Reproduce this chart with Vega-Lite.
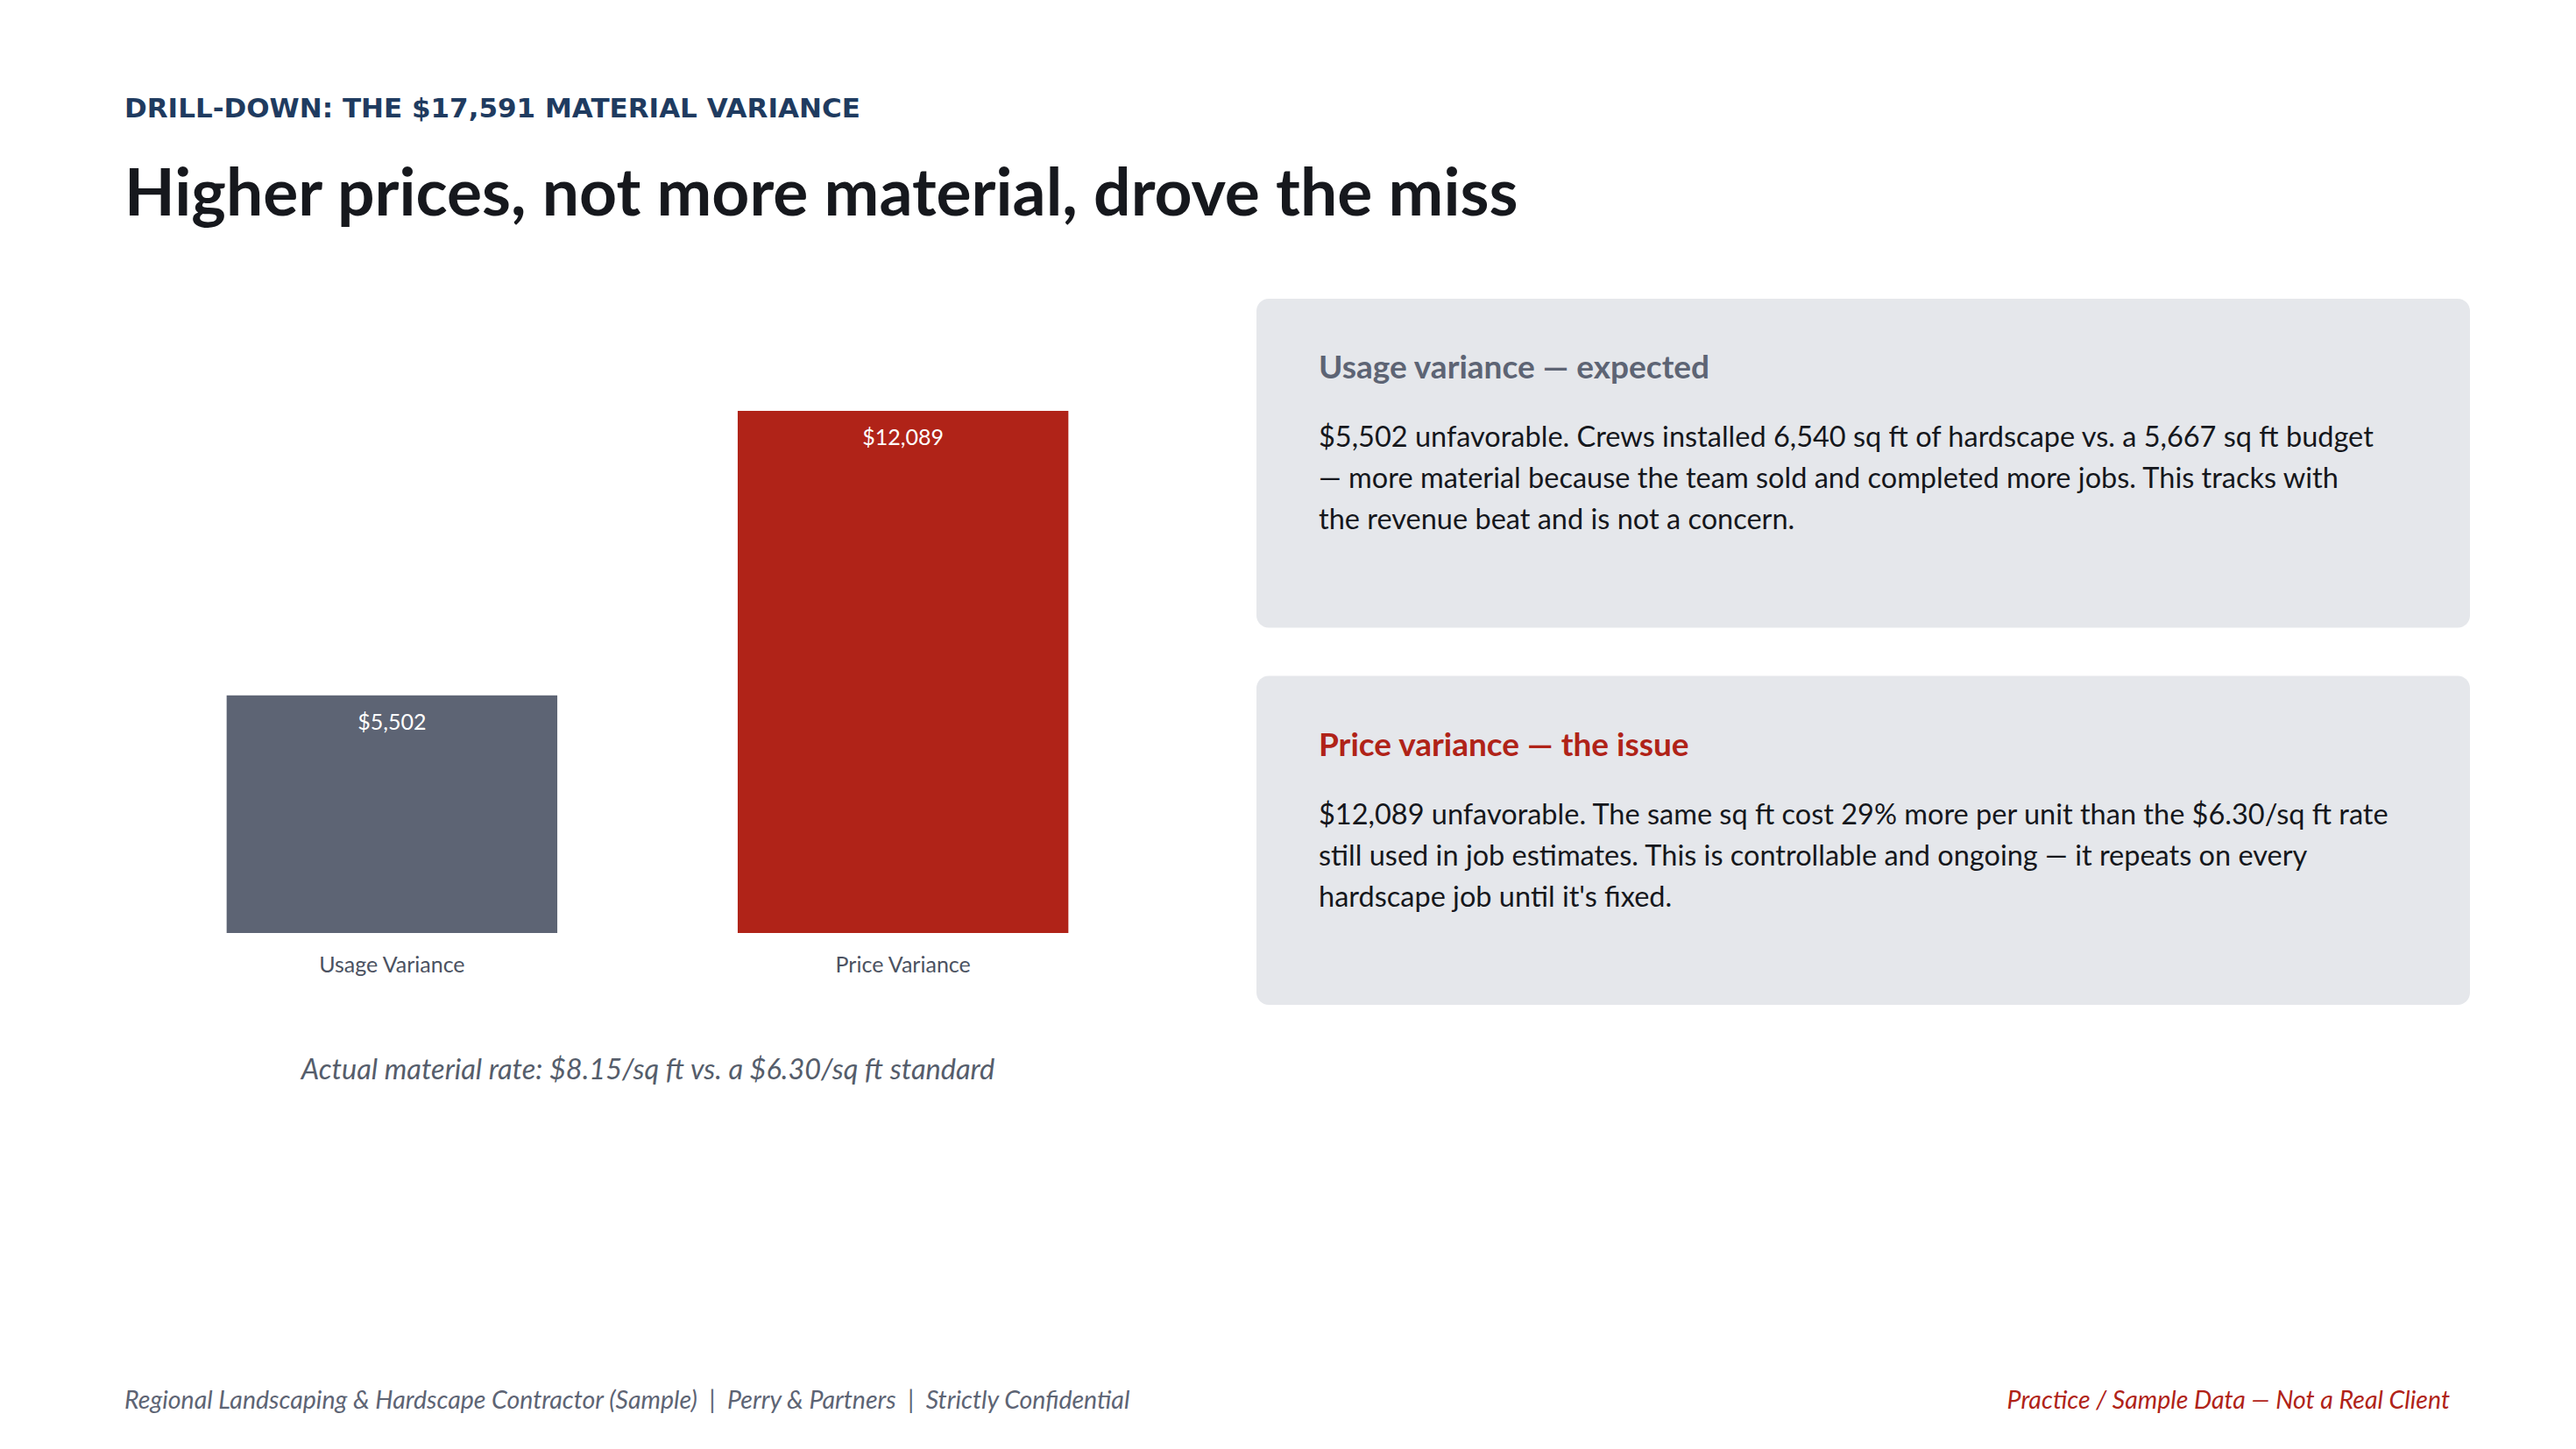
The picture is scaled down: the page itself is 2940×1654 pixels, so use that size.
{
  "$schema": "https://vega.github.io/schema/vega-lite/v6.json",
  "description": "Material variance drill-down: usage vs price variance",
  "background": "#ffffff",
  "padding": {"left": 142, "top": 109, "right": 0, "bottom": 0},
  "title": {
    "text": "DRILL-DOWN: THE $17,591 MATERIAL VARIANCE",
    "subtitle": "Higher prices, not more material, drove the miss",
    "anchor": "start",
    "frame": "group",
    "font": "DejaVu Sans",
    "fontSize": 31,
    "fontWeight": "bold",
    "color": "#1f3b60",
    "subtitleFont": "Lato",
    "subtitleFontSize": 75,
    "subtitleFontWeight": "bold",
    "subtitleColor": "#16181d",
    "subtitlePadding": 46,
    "offset": 79
  },
  "config": {
    "font": "Lato",
    "view": {"stroke": null}
  },
  "datasets": {
    "variance": [
      {"component": "Usage Variance", "amount": 5502},
      {"component": "Price Variance", "amount": 12089}
    ],
    "cards": [
      {
        "card": "Usage",
        "tone": "expected",
        "heading": "Usage variance — expected",
        "body": "$5,502 unfavorable. Crews installed 6,540 sq ft of hardscape vs. a 5,667 sq ft budget\n— more material because the team sold and completed more jobs. This tracks with\nthe revenue beat and is not a concern."
      },
      {
        "card": "Price",
        "tone": "issue",
        "heading": "Price variance — the issue",
        "body": "$12,089 unfavorable. The same sq ft cost 29% more per unit than the $6.30/sq ft rate\nstill used in job estimates. This is controllable and ongoing — it repeats on every\nhardscape job until it's fixed."
      }
    ],
    "footer": [
      {"side": "left", "note": "Regional Landscaping & Hardscape Contractor (Sample) \u00a0|\u00a0 Perry & Partners \u00a0|\u00a0 Strictly Confidential"},
      {"side": "right", "note": "Practice / Sample Data — Not a Real Client"}
    ]
  },
  "vconcat": [
    {
      "hconcat": [
        {
          "width": 1194,
          "height": 724,
          "data": {"name": "variance"},
          "encoding": {
            "x": {
              "field": "component",
              "type": "nominal",
              "sort": null,
              "scale": {"paddingInner": 0.353, "paddingOuter": 0.2},
              "axis": {
                "title": "Actual material rate: $8.15/sq ft vs. a $6.30/sq ft standard",
                "titleFont": "Lato",
                "titleFontSize": 32.5,
                "titleFontStyle": "italic",
                "titleFontWeight": "normal",
                "titleColor": "#555d6b",
                "titlePadding": 91,
                "labelAngle": 0,
                "labelFont": "Lato",
                "labelFontSize": 25,
                "labelColor": "#4b5261",
                "labelPadding": 24,
                "domain": false,
                "ticks": false,
                "tickSize": 0
              }
            },
            "y": {
              "field": "amount",
              "type": "quantitative",
              "scale": {"domain": [0, 14685]},
              "axis": null
            }
          },
          "layer": [
            {
              "mark": {"type": "bar"},
              "encoding": {
                "color": {
                  "field": "component",
                  "type": "nominal",
                  "scale": {"domain": ["Usage Variance", "Price Variance"], "range": ["#5d6474", "#b02318"]},
                  "legend": null
                }
              }
            },
            {
              "mark": {"type": "text", "baseline": "middle", "dy": 31, "fontSize": 25, "color": "#ffffff"},
              "encoding": {
                "text": {"field": "amount", "type": "quantitative", "format": "$,.0f"}
              }
            }
          ]
        },
        {
          "width": 1385,
          "height": 806,
          "data": {"name": "cards"},
          "encoding": {
            "y": {
              "field": "card",
              "type": "nominal",
              "sort": ["Usage", "Price"],
              "scale": {"paddingInner": 0.128, "paddingOuter": 0},
              "axis": null
            }
          },
          "layer": [
            {
              "mark": {"type": "rect", "color": "#e5e7eb", "cornerRadius": 14}
            },
            {
              "mark": {"type": "text", "align": "left", "baseline": "alphabetic", "dy": 91, "fontSize": 37, "fontWeight": "bold"},
              "encoding": {
                "x": {"value": 71},
                "y": {"field": "card", "type": "nominal", "bandPosition": 0},
                "text": {"field": "heading"},
                "color": {
                  "field": "tone",
                  "type": "nominal",
                  "scale": {"domain": ["expected", "issue"], "range": ["#5b6475", "#b02318"]},
                  "legend": null
                }
              }
            },
            {
              "mark": {"type": "text", "align": "left", "baseline": "alphabetic", "dy": 169, "fontSize": 32.5, "lineHeight": 47, "lineBreak": "\n", "color": "#15171c"},
              "encoding": {
                "x": {"value": 71},
                "y": {"field": "card", "type": "nominal", "bandPosition": 0},
                "text": {"field": "body"}
              }
            }
          ]
        }
      ],
      "spacing": 98
    },
    {
      "width": 2654,
      "height": 40,
      "data": {"name": "footer"},
      "encoding": {
        "x": {
          "field": "side",
          "type": "nominal",
          "scale": {"type": "point", "domain": ["left", "right"], "padding": 0},
          "axis": null
        },
        "text": {"field": "note"},
        "color": {
          "field": "side",
          "type": "nominal",
          "scale": {"domain": ["left", "right"], "range": ["#555d6b", "#a8231a"]},
          "legend": null
        }
      },
      "layer": [
        {
          "transform": [{"filter": "datum.side === 'left'"}],
          "mark": {"type": "text", "align": "left", "baseline": "middle", "fontSize": 28.5, "fontStyle": "italic"}
        },
        {
          "transform": [{"filter": "datum.side === 'right'"}],
          "mark": {"type": "text", "align": "right", "baseline": "middle", "fontSize": 28.5, "fontStyle": "italic"}
        }
      ]
    }
  ],
  "spacing": 341
}
